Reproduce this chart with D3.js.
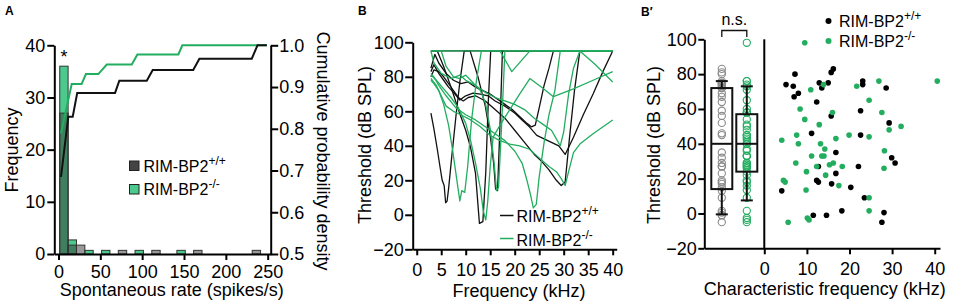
<!DOCTYPE html>
<html>
<head>
<meta charset="utf-8">
<script src="https://cdn.jsdelivr.net/npm/d3@7"></script>
<style>
body{margin:0;background:#fff;}
svg{display:block;font-family:"Liberation Sans",Arial,Helvetica,sans-serif;}
</style>
</head>
<body>
<svg id="fig" width="954" height="307"></svg>
<script>
// ---- data: panel A (spontaneous rate) ----
const rateBins = [6.5, 16.5, 26.5, 36.5, 56.5, 76.5, 96.5, 116.5, 146.5, 166.5, 236.5];
const wtCounts = [27, 1.7, 1.7, 0, 0, 0.7, 0, 0.7, 0, 0.7, 0.7];
const koCounts = [36, 2.7, 0, 0.7, 0.7, 0, 0.7, 0, 0.7, 0, 0];
const wtCdfRate = [3, 11.7, 17, 22.4, 67.6, 72.7, 105.5, 112.6, 161, 168.4, 231, 237.8, 249];
const wtCdf = [0.685, 0.829, 0.829, 0.886, 0.886, 0.915, 0.915, 0.941, 0.941, 0.968, 0.968, 1.0, 1.0];
const koCdfRate = [3, 15.8, 27.6, 32.8, 47.6, 57.7, 87.6, 94.3, 143.3, 148, 249];
const koCdf = [0.789, 0.907, 0.907, 0.931, 0.931, 0.954, 0.954, 0.978, 0.978, 1.0, 1.0];

// ---- data: panel B (tuning curves, [kHz, dB SPL]) ----
const wtCurves = [
  [[2.9,59],[3.5,50],[4.2,38],[4.8,27],[5.2,20],[5.6,17],[5.9,7],[6.2,8],[6.5,15],[7.2,35],[8,57],[8.8,77],[9.7,95],[40,95]],
  [[2.9,95],[4.2,95],[5.5,86],[7,74],[8.5,61],[10,49],[11,39],[12,24],[12.8,-5],[13.5,-4],[14.1,25],[14.6,65],[15.1,95],[40,95]],
  [[2.9,95],[10.9,95],[12.5,80],[14,63],[15,46],[15.7,30],[16.1,15],[16.5,14],[17,52],[17.5,95],[40,95]],
  [[2.9,80],[3.5,84],[4.5,83],[5.5,80],[6.5,76],[7.5,72],[8.5,68],[9.5,66],[10.5,68],[12,69],[14,66],[16,61],[18,56],[20,49],[22,42],[24,35],[25.5,31],[27,26],[28.5,20],[29.5,17],[30.3,19],[31.2,45],[32.2,72],[33.3,95],[40,95]],
  [[2.9,83],[3.5,87],[4.5,82],[5.5,78],[6.5,74],[7.5,71],[8.8,66.5],[10,69],[11.5,70.5],[13,70],[14.6,69],[16,66],[18,63],[20,59],[21.5,55],[23,51],[24.5,46],[26,44],[27.5,42],[29,40],[30.3,35],[32,45],[34,58],[36,70],[38,83],[40,95]],
  [[2.9,85],[3.7,93],[4.5,88],[6,82],[7.5,78],[9,76],[10.5,77],[12,74],[13.5,72],[15,70],[16.5,67],[18,64],[19.5,61],[21,57],[22.5,53],[23.4,51],[24.2,52],[25,62],[26,75],[27,85],[27.9,95],[40,95]]
];
const koCurves = [
  [[2.9,78],[3.5,76],[4.5,72],[5.5,64],[6.5,52],[7.3,38],[8,24],[8.5,14],[8.8,8],[9.2,14],[9.8,13],[10.4,28],[11.2,55],[12.2,78],[13.2,95],[40,95]],
  [[2.9,81],[4,78],[5.5,73],[7,68],[8.5,62],[10,53],[11,43],[12,30],[13,15],[13.6,2],[14.1,-3],[14.5,8],[15,28],[15.6,45],[17,52],[19,61],[21,70],[23.1,79],[25.5,74],[27.9,68.5],[32,73],[36,78],[40,83]],
  [[2.9,95],[5,95],[6,86],[7.5,80],[8.8,79],[10,81],[11,78],[12,75],[13,72],[14,65],[15,50],[15.8,30],[16.3,14],[16.7,16],[17.3,50],[18,95],[40,95]],
  [[2.9,82],[3.5,80],[4.5,75],[6,69],[8,62],[10,58],[12,55],[14,51],[16,47],[18,43],[20,37],[21.5,30],[22.5,20],[23.2,12],[23.8,4],[24.4,6],[25,22],[26,42],[27,58],[28.2,72],[29.3,95],[40,95]],
  [[2.9,79],[4,75],[5,69],[6,63],[7.5,60],[9,58],[11,55],[13,51],[15,46],[17,43],[19,41],[21,40],[23,38],[25,33],[27,28],[28.5,25],[29.5,21],[30.3,17],[31,25],[32,36],[33.3,41],[36,47],[40,55]],
  [[2.9,95],[3.5,88],[5,82],[7,79],[8.8,81],[10,78],[12,75],[14,71],[16,68],[18,66],[20,64],[22,61],[24,56],[26,52],[27.5,49],[28.5,44],[29.3,40],[30,48],[31,70],[32,85],[33.3,95],[40,95]],
  [[2.9,95],[17,95],[19.4,83],[23.1,95],[33.3,95],[36.5,87],[40,77]]
];

// ---- data: panel B' (characteristic frequency / threshold) ----
const wtCF  = [16.2,15.7,5.1,7.2,6.8,7.0,8.0,12.9,13.5,15.0,12.3,23.1,23.1,28.6,22.6,15.7,29.3,11.1,22.6,16.8,29.9,30.7,12.7,22.1,12.3,12.7,16.8,15.8,20.3,4.1,23.5,11.5,14.6,18.2,28.1,27.6];
const wtThr = [83,81,74,80,73,67,69,75,72,75,64,76,74,72,59,56,52,46,45,35,32,29,27,27,19,18,23,17,15,13,9,-1,-1,1.5,0.5,-5];
const koCF  = [9.5,26.9,40.6,21.7,10.9,13.9,24.6,8.4,16.0,27.6,9.5,12.9,32.1,29.3,4.1,7.6,8.0,16.8,19.9,24.6,13.2,14.2,13.5,14.0,11.1,7.4,12.3,15.3,16.2,18.3,28.2,28.1,9.9,14.4,4.5,4.9,9.8,17.5,24.6,24.6,5.6,10.1,10.5];
const koThr = [98,76,76,73,71,74,65,60,58,58,54,51,50,48,42,45,40,43,45,44,40,37,33,33,33,29,27,28,29,27,36,26,24,22,19,18,13.5,16,9,1.5,-5,-2.6,-3.7];
const boxGroups = ["+/+", "-/-"];
const boxQ1 = [14, 24];
const boxMedian = [40, 40];
const boxQ3 = [72, 57];
const whiskerLow = [-0.5, 7.5];
const whiskerHigh = [76, 73];

// ---- style ----
const FONT = '"Liberation Sans",Arial,Helvetica,sans-serif';
const GREEN = "#22ad5f";
const GREEN_BAR = "#4cc98c";
const svg = d3.select("#fig");

function styleAxis(g){
  g.attr("font-family", FONT);
  g.select(".domain").attr("stroke", "#000").attr("stroke-width", 2);
  g.selectAll(".tick line").attr("stroke", "#000").attr("stroke-width", 2);
  g.selectAll(".tick text").attr("font-size", 18).attr("fill", "#000");
}
function label(x, y, txt, size, opts = {}){
  const t = svg.append("text").attr("x", x).attr("y", y).attr("font-size", size)
    .attr("text-anchor", opts.anchor || "start").attr("font-weight", opts.bold ? "bold" : null)
    .text(txt);
  if (opts.rot) t.attr("transform", `rotate(${opts.rot},${x},${y})`);
  return t;
}
function legendText(x, y, sup){
  const t = svg.append("text").attr("x", x).attr("y", y).attr("font-size", 16);
  t.append("tspan").text("RIM-BP2");
  t.append("tspan").attr("font-size", 12).attr("dy", -7).text(sup);
}

// ================= panel A =================
const xA = d3.scaleLinear().domain([-5, 253.6]).range([54.3, 270.7]);
const yA = d3.scaleLinear().domain([0, 40]).range([254, 45.3]);
const yA2 = d3.scaleLinear().domain([0.5, 1]).range([254, 45.3]);
const binW = 10;

const gA = svg.append("g");
gA.selectAll("rect.ko").data(rateBins.map((c, i) => ({c, v: koCounts[i]})).filter(d => d.v > 0))
  .join("rect").attr("class", "ko")
  .attr("x", d => xA(d.c - binW/2)).attr("width", d => xA(d.c + binW/2) - xA(d.c - binW/2))
  .attr("y", d => yA(d.v)).attr("height", d => yA(0) - yA(d.v))
  .attr("fill", GREEN_BAR).attr("stroke", "#333").attr("stroke-width", 1);
gA.selectAll("rect.wt").data(rateBins.map((c, i) => ({c, v: wtCounts[i]})).filter(d => d.v > 0))
  .join("rect").attr("class", "wt")
  .attr("x", d => xA(d.c - binW/2)).attr("width", d => xA(d.c + binW/2) - xA(d.c - binW/2))
  .attr("y", d => yA(d.v)).attr("height", d => yA(0) - yA(d.v))
  .attr("fill", "#333").attr("fill-opacity", 0.5).attr("stroke", "#333").attr("stroke-width", 1);

const cdfLine = d3.line().x(d => xA(d[0])).y(d => yA2(d[1]));
gA.append("path").datum(koCdfRate.map((r, i) => [r, koCdf[i]]))
  .attr("d", cdfLine).attr("fill", "none").attr("stroke", GREEN).attr("stroke-width", 2);
gA.append("path").datum(wtCdfRate.map((r, i) => [r, wtCdf[i]]))
  .attr("d", cdfLine).attr("fill", "none").attr("stroke", "#111").attr("stroke-width", 2);

gA.append("g").attr("transform", "translate(0,254)")
  .call(d3.axisBottom(xA).tickValues(d3.range(0, 251, 50)).tickSize(6).tickPadding(5).tickSizeOuter(0)).call(styleAxis);
gA.append("g").attr("transform", "translate(54.3,0)")
  .call(d3.axisLeft(yA).tickValues(d3.range(0, 41, 10)).tickSize(7).tickPadding(2).tickSizeOuter(0)).call(styleAxis);
gA.append("g").attr("transform", "translate(270.7,0)")
  .call(d3.axisRight(yA2).tickValues([0.5, 0.6, 0.7, 0.8, 0.9, 1.0]).tickFormat(d3.format(".1f"))
  .tickSize(7.5).tickPadding(1).tickSizeOuter(0)).call(styleAxis);

label(xA(rateBins[0]), 63, "*", 18, {anchor: "middle"});
svg.append("rect").attr("x", 129.5).attr("y", 161).attr("width", 9.5).attr("height", 9.5)
  .attr("fill", "#444").attr("stroke", "#222");
svg.append("rect").attr("x", 129.5).attr("y", 184.5).attr("width", 9.5).attr("height", 9.5)
  .attr("fill", GREEN_BAR).attr("stroke", "#222");
legendText(143.5, 171.5, "+/+");
legendText(143.5, 195, "-/-");

label(18, 150, "Frequency", 18, {anchor: "middle", rot: -90});
label(317, 151, "Cumulative probability density", 18, {anchor: "middle", rot: 90});
label(171.7, 296, "Spontaneous rate (spikes/s)", 18, {anchor: "middle"});
label(5, 15, "A", 12, {bold: true});

// ================= panel B =================
const xB = d3.scaleLinear().domain([-0.82, 40.82]).range([412.7, 616.7]);
const yB = d3.scaleLinear().domain([-20, 100]).range([249.3, 42.3]);
const tuneLine = d3.line().x(d => xB(d[0])).y(d => yB(d[1]));
const gB = svg.append("g");
gB.selectAll("path.wt").data(wtCurves).join("path").attr("class", "wt")
  .attr("d", tuneLine).attr("fill", "none").attr("stroke", "#111").attr("stroke-width", 1.3)
  .attr("stroke-linejoin", "round");
gB.selectAll("path.ko").data(koCurves).join("path").attr("class", "ko")
  .attr("d", tuneLine).attr("fill", "none").attr("stroke", GREEN).attr("stroke-width", 1.3)
  .attr("stroke-linejoin", "round");

gB.append("g").attr("transform", "translate(0,249.3)")
  .call(d3.axisBottom(xB).tickValues(d3.range(0, 41, 5)).tickSize(6).tickPadding(8).tickSizeOuter(0)).call(styleAxis);
gB.append("g").attr("transform", "translate(412.7,0)")
  .call(d3.axisLeft(yB).tickValues(d3.range(-20, 101, 20)).tickSize(7.5).tickPadding(1.5).tickSizeOuter(0)).call(styleAxis);

svg.append("line").attr("x1", 500).attr("x2", 513.5).attr("y1", 215.5).attr("y2", 215.5)
  .attr("stroke", "#111").attr("stroke-width", 1.5);
svg.append("line").attr("x1", 500).attr("x2", 513.5).attr("y1", 238.5).attr("y2", 238.5)
  .attr("stroke", GREEN).attr("stroke-width", 1.5);
legendText(516.5, 222, "+/+");
legendText(516.5, 245.5, "-/-");

label(371, 145, "Threshold (dB SPL)", 18, {anchor: "middle", rot: -90});
label(519, 297, "Frequency (kHz)", 18, {anchor: "middle"});
label(358, 15, "B", 12, {bold: true});

// ================= panel B' =================
const yC = d3.scaleLinear().domain([-20, 100]).range([248.3, 39.3]);
const xC = d3.scaleLinear().domain([-14.08, 41.24]).range([704.3, 940]);
const xBox = d3.scalePoint().domain(boxGroups).range([704.3, 764.3]).padding(0.7);
const gC = svg.append("g");

const boxCols = [
  {g: boxGroups[0], vals: wtThr, color: "#8a8a8a"},
  {g: boxGroups[1], vals: koThr, color: GREEN}
];
boxCols.forEach(col => {
  gC.selectAll(null).data(col.vals).join("circle")
    .attr("cx", xBox(col.g)).attr("cy", d => yC(d)).attr("r", 3.6)
    .attr("fill", "none").attr("stroke", col.color).attr("stroke-width", 1.1);
});
const bw = 10.5, cw = 6;
boxGroups.forEach((g, i) => {
  const cx = xBox(g);
  const s = {stroke: "#111", "stroke-width": 2};
  const add = (x1, y1, x2, y2) => gC.append("line").attr("x1", x1).attr("y1", y1).attr("x2", x2).attr("y2", y2)
    .attr("stroke", s.stroke).attr("stroke-width", s["stroke-width"]);
  gC.append("rect").attr("x", cx - bw).attr("width", 2*bw)
    .attr("y", yC(boxQ3[i])).attr("height", yC(boxQ1[i]) - yC(boxQ3[i]))
    .attr("fill", "none").attr("stroke", "#111").attr("stroke-width", 2);
  add(cx - bw, yC(boxMedian[i]), cx + bw, yC(boxMedian[i]));
  add(cx, yC(boxQ3[i]), cx, yC(whiskerHigh[i]));
  add(cx, yC(boxQ1[i]), cx, yC(whiskerLow[i]));
  add(cx - cw, yC(whiskerHigh[i]), cx + cw, yC(whiskerHigh[i]));
  add(cx - cw, yC(whiskerLow[i]), cx + cw, yC(whiskerLow[i]));
});

// n.s. bracket
const bx1 = xBox(boxGroups[0]), bx2 = xBox(boxGroups[1]);
gC.append("path").attr("d", `M${bx1},37V30.5H${bx2}V37`).attr("fill", "none")
  .attr("stroke", "#111").attr("stroke-width", 1.3);
label((bx1 + bx2) / 2, 25, "n.s.", 16, {anchor: "middle"});

// scatter
gC.selectAll("circle.wt").data(wtCF.map((f, i) => [f, wtThr[i]])).join("circle").attr("class", "wt")
  .attr("cx", d => xC(d[0])).attr("cy", d => yC(d[1])).attr("r", 2.8).attr("fill", "#000");
gC.selectAll("circle.ko").data(koCF.map((f, i) => [f, koThr[i]])).join("circle").attr("class", "ko")
  .attr("cx", d => xC(d[0])).attr("cy", d => yC(d[1])).attr("r", 2.8).attr("fill", GREEN);

gC.append("g").attr("transform", "translate(0,248.3)")
  .call(d3.axisBottom(xC).tickValues(d3.range(0, 41, 10)).tickSize(6).tickPadding(8).tickSizeOuter(0)).call(styleAxis);
gC.append("g").attr("transform", "translate(704.3,0)")
  .call(d3.axisLeft(yC).tickValues(d3.range(-20, 101, 20)).tickSize(6).tickPadding(1.5).tickSizeOuter(0)).call(styleAxis);
gC.append("line").attr("x1", xC(0)).attr("x2", xC(0)).attr("y1", yC(100)).attr("y2", yC(-20))
  .attr("stroke", "#000").attr("stroke-width", 2);

svg.append("circle").attr("cx", 828.5).attr("cy", 21).attr("r", 3).attr("fill", "#000");
svg.append("circle").attr("cx", 828.5).attr("cy", 41).attr("r", 3).attr("fill", GREEN);
legendText(839, 26.5, "+/+");
legendText(839, 47, "-/-");

label(659.5, 145, "Threshold (dB SPL)", 18, {anchor: "middle", rot: -90});
label(824.7, 295, "Characteristic frequency (kHz)", 18, {anchor: "middle"});
label(641, 16, "B\u2032", 12, {bold: true});
</script>
</body>
</html>
